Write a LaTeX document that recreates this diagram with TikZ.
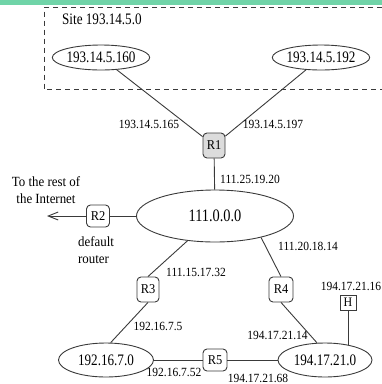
\documentclass[tikz,border=0pt]{standalone}
\usepackage{fontspec}
\setmainfont{Liberation Serif}
\newfontfamily\netfont{Liberation Serif}[FakeStretch=0.82]
\newfontfamily\lblfont{Liberation Serif}[FakeStretch=0.92]
\usetikzlibrary{shapes.geometric,arrows.meta}
\definecolor{topbar}{HTML}{70D4A8}
\definecolor{ink}{HTML}{3A3A3A}
\definecolor{rshade}{HTML}{DCDCDC}
\tikzset{
  net/.style={ellipse, draw=ink, line width=0.9pt, inner sep=0pt,
    font=\netfont\fontsize{16}{18}\selectfont},
  router/.style={rectangle, rounded corners=4pt, draw=ink, line width=0.9pt,
    inner sep=0pt, minimum width=22pt, minimum height=25pt,
    font=\lblfont\fontsize{13.5}{15}\selectfont},
  hostbox/.style={rectangle, draw=ink, line width=0.9pt, inner sep=0pt,
    minimum width=16pt, minimum height=15pt,
    font=\lblfont\fontsize{13}{15}\selectfont},
  addr/.style={inner sep=0pt, font=\lblfont\fontsize{12.5}{14}\selectfont},
  note/.style={inner sep=0pt, font=\lblfont\fontsize{14}{17}\selectfont},
  link/.style={draw=ink, line width=0.9pt},
  sitebox/.style={draw=ink, line width=0.9pt, dash pattern=on 5pt off 4pt}
}
\begin{document}
\begin{tikzpicture}[x=1pt,y=-1pt]
\useasboundingbox (0,0) rectangle (382,384);
\fill[topbar] (0,0) rectangle (382,4.5);

% site boundary (open on the right)
\draw[sitebox] (382,7.5) -- (44,7.5) -- (44,89) -- (382,89);
\node[anchor=west, inner sep=0pt, font=\netfont\fontsize{16}{18}\selectfont]
  (site) at (62,19) {Site 193.14.5.0};

% networks
\node[net, minimum width=86pt, minimum height=25pt] (n160) at (101,57.5) {193.14.5.160};
\node[net, minimum width=88pt, minimum height=25pt] (n192) at (321,57.5) {193.14.5.192};
\node[net, minimum width=157pt, minimum height=52pt,
  font=\netfont\fontsize{17.5}{19}\selectfont] (core) at (215,216) {111.0.0.0};
\node[net, minimum width=95pt, minimum height=34pt] (n7) at (106,360) {192.16.7.0};
\node[net, minimum width=94pt, minimum height=34pt] (n21) at (325,360) {194.17.21.0};

% routers and host
\node[router, fill=rshade] (r1) at (214,145.5) {R1};
\node[router, minimum width=23pt, minimum height=22pt] (r2) at (98,216) {R2};
\node[router] (r3) at (148,289.5) {R3};
\node[router, minimum width=24pt] (r4) at (281,289.5) {R4};
\node[router, minimum width=24pt, minimum height=22pt] (r5) at (215,360) {R5};
\node[hostbox] (h) at (348,302.5) {H};
\coordinate (out) at (47,216);

% links
\draw[link] (n160) -- (r1);
\draw[link] (n192) -- (r1);
\draw[link] (r1) -- (core);
\draw[link] (core) -- (r2);
\draw[link, -{Straight Barb[length=10pt,width=8pt]}] (r2) -- (out);
\draw[link] (core.222) -- (r3.north);
\draw[link] (r3.south) -- (n7.75);
\draw[link] (core.335) -- (r4.north);
\draw[link] (r4.south) -- (n21.115);
\draw[link] (n7) -- (r5);
\draw[link] (r5) -- (n21);
\draw[link] (h.south) -- (h.south |- n21.35);

% interface addresses
\node[addr] (a165) at (149,124.5) {193.14.5.165};
\node[addr] (a197) at (273,124.5) {193.14.5.197};
\node[addr] (a2520) at (250,179) {111.25.19.20};
\node[addr] (a1532) at (196,272) {111.15.17.32};
\node[addr] (a1814) at (308,246) {111.20.18.14};
\node[addr] (a2116) at (351,286) {194.17.21.16};
\node[addr] (a75) at (158,326.5) {192.16.7.5};
\node[addr] (a2114) at (277.5,335) {194.17.21.14};
\node[addr] (a752) at (174,372.5) {192.16.7.52};
\node[addr] (a2168) at (258,378) {194.17.21.68};

% notes
\node[note, align=center] (inet) at (46,190) {To the rest of\\the Internet};
\node[note, align=left, anchor=north west] (dflt) at (78,236) {default\\router};
\end{tikzpicture}
\end{document}
